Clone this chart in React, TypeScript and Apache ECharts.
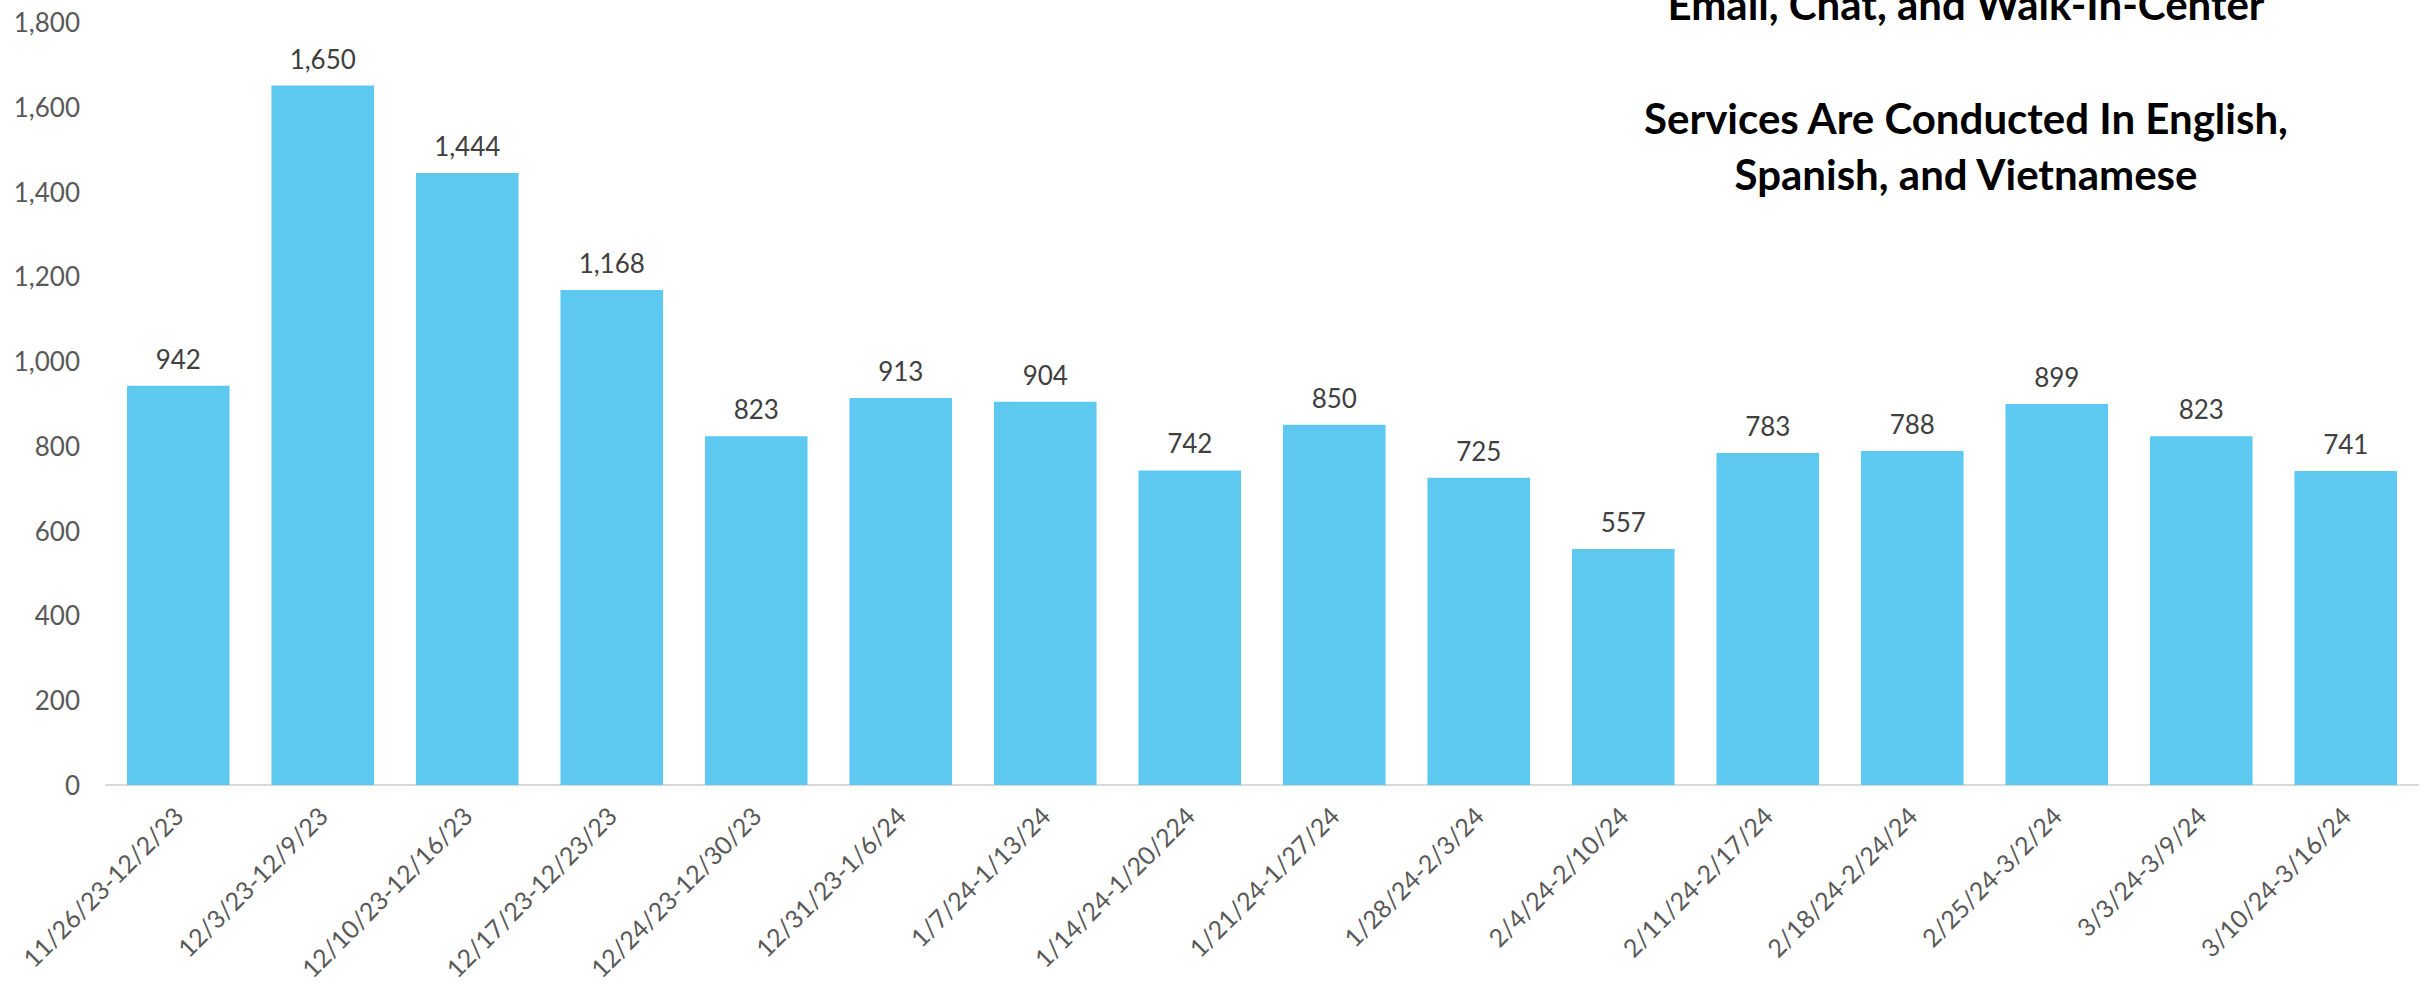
import React, { useEffect, useRef } from "react";
import * as echarts from "echarts";

const categories = [
  "11/26/23-12/2/23",
  "12/3/23-12/9/23",
  "12/10/23-12/16/23",
  "12/17/23-12/23/23",
  "12/24/23-12/30/23",
  "12/31/23-1/6/24",
  "1/7/24-1/13/24",
  "1/14/24-1/20/224",
  "1/21/24-1/27/24",
  "1/28/24-2/3/24",
  "2/4/24-2/10/24",
  "2/11/24-2/17/24",
  "2/18/24-2/24/24",
  "2/25/24-3/2/24",
  "3/3/24-3/9/24",
  "3/10/24-3/16/24",
];

const values = [942, 1650, 1444, 1168, 823, 913, 904, 742, 850, 725, 557, 783, 788, 899, 823, 741];

const titleLines = [
  "Email, Chat, and Walk-In-Center",
  "Services Are Conducted In English,",
  "Spanish, and Vietnamese",
];

const FONT = "Lato, 'Open Sans', sans-serif";
const fmt = (v: number) => v.toLocaleString("en-US");

export default function App() {
  const ref = useRef<HTMLDivElement>(null);
  useEffect(() => {
    if (!ref.current) return;
    const chart = echarts.init(ref.current, null, { renderer: "svg" });
    const titleY = [4, 118, 174];
    chart.setOption({
      animation: false,
      backgroundColor: "#ffffff",
      grid: { left: 106, right: 12, top: 22, bottom: 201, containLabel: false },
      xAxis: {
        type: "category",
        data: categories,
        axisLine: { show: true, lineStyle: { color: "#D9D9D9", width: 2 } },
        axisTick: { show: false },
        axisLabel: {
          interval: 0,
          rotate: 45,
          margin: 26,
          color: "#595959",
          fontFamily: FONT,
          fontSize: 25,
        },
      },
      yAxis: {
        type: "value",
        min: 0,
        max: 1800,
        interval: 200,
        axisLine: { show: false },
        axisTick: { show: false },
        splitLine: { show: false },
        axisLabel: {
          margin: 26,
          color: "#595959",
          fontFamily: FONT,
          fontSize: 26,
          formatter: (v: number) => fmt(v),
        },
      },
      series: [
        {
          type: "bar",
          data: values,
          barCategoryGap: "29%",
          itemStyle: { color: "#5DC9F1" },
          label: {
            show: true,
            position: "top",
            distance: 14,
            color: "#404040",
            fontFamily: FONT,
            fontSize: 26,
            formatter: (p: any) => fmt(p.value),
          },
        },
      ],
      graphic: titleLines.map((t, i) => ({
        type: "text",
        x: 1966,
        y: titleY[i],
        style: {
          text: t,
          fontFamily: FONT,
          fontWeight: "bold",
          fontSize: 42,
          fill: "#000000",
          textAlign: "center",
          textVerticalAlign: "middle",
        },
      })),
    });
    return () => chart.dispose();
  }, []);
  return (
    <div
      ref={ref}
      style={{ position: "fixed", left: 0, top: 0, width: 2430, height: 986 }}
    />
  );
}
